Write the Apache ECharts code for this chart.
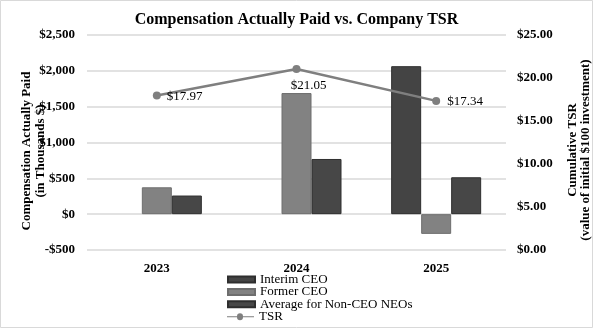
<!DOCTYPE html>
<html>
<head>
<meta charset="utf-8">
<script src="https://cdn.jsdelivr.net/npm/echarts@6/dist/echarts.min.js"></script>
<style>
  html, body { margin: 0; padding: 0; background: #fff; }
  #chart { width: 593px; height: 328px; }
</style>
</head>
<body>
<div id="chart"></div>
<script>
// Fiscal years on the category axis
const years = ['2023', '2024', '2025'];

// Compensation actually paid, in thousands of dollars
const interimCeo = [null, null, 2065];
const formerCeo = [375, 1690, -275];
const avgNonCeoNeos = [260, 770, 515];

// Cumulative TSR (value of an initial $100 investment)
const tsr = [17.97, 21.05, 17.34];

// Axis tick settings
const compTicks = { min: -500, max: 2500, interval: 500 };
const tsrTicks = { min: 0, max: 25, interval: 5 };

const serif = 'Liberation Serif';
const chart = echarts.init(document.getElementById('chart'), null, { renderer: 'canvas' });

const money = (v) => {
  const s = Math.abs(v).toLocaleString('en-US');
  return (v < 0 ? '-$' : '$') + s;
};

// One stacked legend row per series
const legendNames = ['Interim CEO', 'Former CEO', 'Average for Non-CEO NEOs', 'TSR'];
const tsrIcon = 'path://M0,6 L10,6 A3,3 0 1 1 16,6 L27,6 L27,7 L16,7 A3,3 0 1 1 10,7 L0,7 Z';
const legends = legendNames.map((name, i) => ({
  orient: 'vertical',
  left: 227,
  top: 273 + i * 12.4,
  padding: 0,
  itemWidth: 27,
  itemHeight: name === 'TSR' ? 8 : 6,
  itemGap: 0,
  icon: name === 'TSR' ? tsrIcon : 'rect',
  textStyle: { fontFamily: serif, fontSize: 13, color: '#000' },
  data: [name]
}));

// Label placement for each TSR point
const tsrLabelPos = [
  { position: 'right', distance: 6, offset: [0, 1] },
  { position: 'bottom', distance: 6, offset: [12, 0] },
  { position: 'right', distance: 7, offset: [0, 1] }
];

chart.setOption({
  animation: false,
  backgroundColor: '#fff',
  title: {
    text: 'Compensation Actually Paid vs. Company TSR',
    left: 'center',
    top: 7,
    textStyle: { fontFamily: serif, fontWeight: 'bold', fontSize: 16, color: '#000' }
  },
  grid: { left: 87, right: 87, top: 35, bottom: 78 },
  legend: legends,
  xAxis: {
    type: 'category',
    data: years,
    axisLine: { show: false },
    axisTick: { show: false },
    axisLabel: { fontFamily: serif, fontWeight: 'bold', fontSize: 13, color: '#000', margin: 12 }
  },
  yAxis: [
    {
      type: 'value',
      min: compTicks.min, max: compTicks.max, interval: compTicks.interval,
      axisLine: { show: false },
      axisTick: { show: false },
      splitLine: { lineStyle: { color: '#d9d9d9', width: 1.5 } },
      axisLabel: { fontFamily: serif, fontWeight: 'bold', fontSize: 13, color: '#000', margin: 12, formatter: money }
    },
    {
      type: 'value',
      position: 'right',
      min: tsrTicks.min, max: tsrTicks.max, interval: tsrTicks.interval,
      axisLine: { show: false },
      axisTick: { show: false },
      splitLine: { show: false },
      axisLabel: { fontFamily: serif, fontWeight: 'bold', fontSize: 13, color: '#000', margin: 11,
        formatter: (v) => '$' + v.toFixed(2) }
    }
  ],
  graphic: [
    {
      type: 'rect',
      shape: { x: 0.5, y: 0.5, width: 592, height: 327 },
      style: { fill: 'none', stroke: '#d9d9d9', lineWidth: 1 },
      silent: true
    },
    {
      type: 'text',
      x: 34, y: 151,
      rotation: Math.PI / 2,
      style: {
        text: 'Compensation Actually Paid\n(in Thousands $)',
        fontFamily: serif, fontWeight: 'bold', fontSize: 13, lineHeight: 14,
        fill: '#000', align: 'center', verticalAlign: 'middle'
      }
    },
    {
      type: 'text',
      x: 579, y: 150,
      rotation: Math.PI / 2,
      style: {
        text: 'Cumulative TSR\n(value of initial $100 investment)',
        fontFamily: serif, fontWeight: 'bold', fontSize: 13, lineHeight: 13,
        fill: '#000', align: 'center', verticalAlign: 'middle'
      }
    }
  ],
  series: [
    {
      name: 'Interim CEO', type: 'bar', data: interimCeo,
      barWidth: 30, barGap: '0%',
      itemStyle: { color: '#444444', borderColor: '#2e2e2e', borderWidth: 1 }
    },
    {
      name: 'Former CEO', type: 'bar', data: formerCeo,
      barWidth: 30, barGap: '0%',
      itemStyle: { color: '#828282', borderColor: '#6e6e6e', borderWidth: 1 }
    },
    {
      name: 'Average for Non-CEO NEOs', type: 'bar', data: avgNonCeoNeos,
      barWidth: 30, barGap: '0%',
      itemStyle: { color: '#474747', borderColor: '#2e2e2e', borderWidth: 1 }
    },
    {
      name: 'TSR', type: 'line', yAxisIndex: 1,
      data: tsr.map((v, i) => ({ value: v, label: tsrLabelPos[i] })),
      symbol: 'circle', symbolSize: 8,
      lineStyle: { color: '#7f7f7f', width: 2.5 },
      itemStyle: { color: '#7f7f7f' },
      label: {
        show: true,
        fontFamily: serif, fontSize: 13, color: '#000',
        formatter: (p) => '$' + p.value.toFixed(2)
      },
      z: 5
    }
  ]
});
</script>
</body>
</html>
